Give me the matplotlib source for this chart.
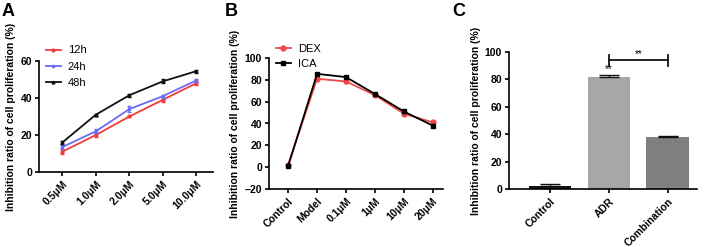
import numpy as np
import matplotlib
matplotlib.use('Agg')
import matplotlib.pyplot as plt

plt.rcParams['font.family'] = ['Liberation Sans', 'DejaVu Sans']

# panel A
conc_a = ['0.5\u03bcM', '1.0\u03bcM', '2.0\u03bcM', '5.0\u03bcM', '10.0\u03bcM']
h12 = [11, 20, 30, 39, 48]
h12_err = [1.5, 1.0, 0.5, 1.0, 1.0]
h24 = [13.5, 22, 34, 41, 49.5]
h24_err = [1.0, 1.0, 1.5, 0.8, 0.8]
h48 = [16, 31, 41.5, 49, 54.5]
h48_err = [1.0, 0.5, 0.8, 1.0, 0.8]

# panel B
groups_b = ['Control', 'Model', '0.1\u03bcM', '1\u03bcM', '10\u03bcM', '20\u03bcM']
dex = [2, 81, 78.5, 66, 49, 41]
dex_err = [1, 1.5, 1.5, 1, 1, 1]
ica = [1, 85.5, 82.5, 67, 51, 38]
ica_err = [1, 1, 1, 1, 1, 1.5]

# panel C
groups_c = ['Control', 'ADR', 'Combination']
vals_c = [2, 82, 38]
err_c = [2, 1.5, 1]
cols_c = ['#111111', '#a7a7a9', '#7f7f7f']

fig = plt.figure(figsize=(7.08, 2.47), dpi=100)
W, H = 708.0, 247.0

def make_ax(l, r, t, b):
    return fig.add_axes([l / W, 1 - b / H, (r - l) / W, (b - t) / H])

def style(ax):
    for s in ['top', 'right']:
        ax.spines[s].set_visible(False)
    for s in ['left', 'bottom']:
        ax.spines[s].set_linewidth(1.2)
    ax.tick_params(width=1.2, length=3, labelsize=7.5, pad=2)
    for lab in ax.get_xticklabels() + ax.get_yticklabels():
        lab.set_fontweight('bold')
    ax.set_ylabel('Inhibition ratio of cell proliferation (%)', fontsize=7.5, fontweight='bold', labelpad=3)

def series(ax, x, y, err, color, marker, ms, label):
    ax.errorbar(x, y, yerr=err, fmt='none', ecolor=color, elinewidth=1.2, capsize=1.5)
    ax.plot(x, y, color=color, marker=marker, ms=ms, lw=1.3, label=label)

# A
ax = make_ax(39, 213, 61, 172)
x = np.arange(len(conc_a))
series(ax, x, h12, h12_err, '#f03c3c', 'o', 2, '12h')
series(ax, x, h24, h24_err, '#6b6bf5', 's', 2, '24h')
series(ax, x, h48, h48_err, '#111111', '^', 2, '48h')
ax.set_xlim(-0.7, 4.5)
ax.set_ylim(0, 60)
ax.set_yticks([0, 20, 40, 60])
ax.set_xticks(x)
ax.set_xticklabels(conc_a, rotation=45, ha='right', rotation_mode='anchor')
style(ax)
ax.legend(loc='upper left', bbox_to_anchor=(0.0, 1.2), frameon=False, fontsize=8,
          handlelength=1.4, handletextpad=0.6, labelspacing=0.55, borderaxespad=0.2)

# B
ax = make_ax(269, 443, 58, 189)
x = np.arange(len(groups_b))
series(ax, x, dex, dex_err, '#f04848', 'o', 3.5, 'DEX')
series(ax, x, ica, ica_err, '#000000', 's', 3.5, 'ICA')
ax.set_xlim(-0.66, 5.35)
ax.set_ylim(-20, 100)
ax.set_yticks(np.arange(-20, 101, 20))
ax.set_xticks(x)
ax.set_xticklabels(groups_b, rotation=45, ha='right', rotation_mode='anchor')
style(ax)
ax.legend(loc='upper left', bbox_to_anchor=(0.0, 1.16), frameon=False, fontsize=8,
          handlelength=1.4, handletextpad=0.6, labelspacing=0.45, borderaxespad=0.2)

# C
ax = make_ax(509, 697, 52, 189)
x = np.arange(len(groups_c))
ax.bar(x, vals_c, width=0.72, color=cols_c)
ax.errorbar(x, vals_c, yerr=[[0, 0, 0], err_c], fmt='none', ecolor='#111111', elinewidth=1, capsize=7)
ax.set_xlim(-0.7, 2.5)
ax.set_ylim(0, 100)
ax.set_yticks(np.arange(0, 101, 20))
ax.set_xticks(x)
ax.set_xticklabels(groups_c, rotation=45, ha='right', rotation_mode='anchor')
style(ax)
ax.plot([1, 2], [94, 94], color='#111111', lw=1.3, clip_on=False)
ax.plot([1, 1], [90, 98], color='#111111', lw=1.3, clip_on=False)
ax.plot([2, 2], [90, 98], color='#111111', lw=1.3, clip_on=False)
ax.text(1.5, 94.5, '**', ha='center', va='bottom', fontsize=7)
ax.text(1, 84, '**', ha='center', va='bottom', fontsize=7)

fig.text(2 / W, 1 - 3 / H, 'A', fontsize=13, fontweight='bold', va='top')
fig.text(225 / W, 1 - 3 / H, 'B', fontsize=13, fontweight='bold', va='top')
fig.text(452 / W, 1 - 3 / H, 'C', fontsize=13, fontweight='bold', va='top')

fig.savefig('out.png', dpi=100)
